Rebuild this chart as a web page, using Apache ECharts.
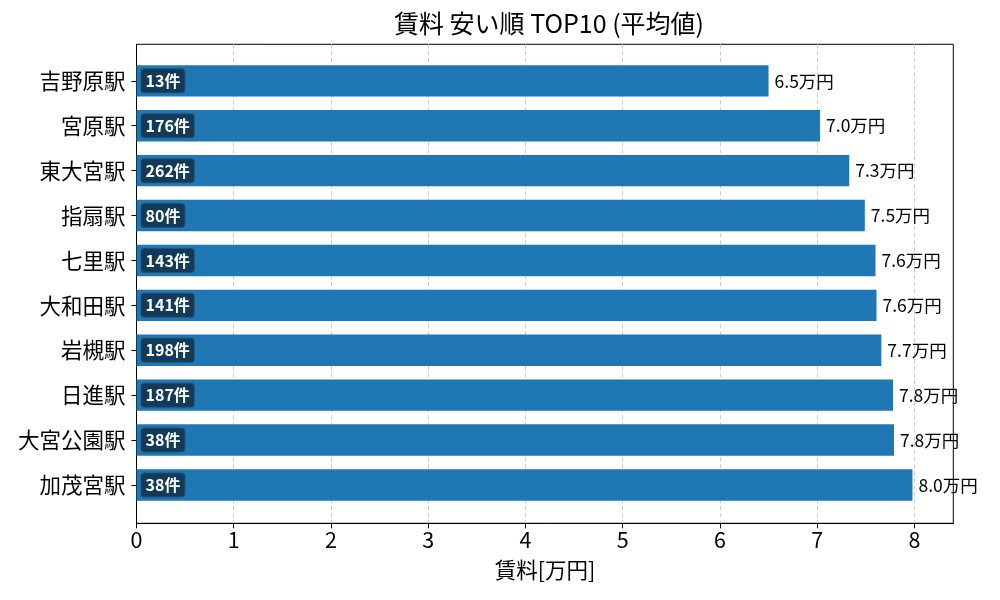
<!DOCTYPE html>
<html>
<head>
<meta charset="utf-8">
<script src="https://cdn.jsdelivr.net/npm/echarts@6/dist/echarts.min.js"></script>
<style>
  html, body { margin: 0; padding: 0; background: #fff; }
  #chart { width: 1000px; height: 600px; }
</style>
</head>
<body>
<div id="chart"></div>
<script>
// 賃料 安い順 TOP10
const stations = ['吉野原駅', '宮原駅', '東大宮駅', '指扇駅', '七里駅', '大和田駅', '岩槻駅', '日進駅', '大宮公園駅', '加茂宮駅'];
const rents = [6.50, 7.03, 7.33, 7.49, 7.60, 7.61, 7.66, 7.78, 7.79, 7.98];
const counts = [13, 176, 262, 80, 143, 141, 198, 187, 38, 38];
const xTicks = [0, 1, 2, 3, 4, 5, 6, 7, 8];

const FONT = '"Noto Sans CJK JP", "Noto Sans", sans-serif';
const chart = echarts.init(document.getElementById('chart'));

const option = {
  backgroundColor: '#fff',
  animation: false,
  textStyle: { fontFamily: FONT },
  title: {
    text: '賃料 安い順 TOP10 (平均値)',
    left: 544,
    textAlign: 'center',
    top: 6,
    textStyle: { fontFamily: FONT, fontSize: 25, fontWeight: 'normal', color: '#000' }
  },
  grid: [
    // 枠・x軸用
    { left: 136.5, right: 46.7, top: 44.3, bottom: 76.7, show: true, borderColor: '#000', borderWidth: 1, backgroundColor: 'transparent' },
    // バー用（上下に余白あり）
    { left: 136.5, right: 46.7, top: 58.4, bottom: 92.6 }
  ],
  xAxis: [
    {
      gridIndex: 0,
      type: 'value',
      min: 0,
      max: 8.4,
      interval: 1,
      name: '賃料[万円]',
      nameLocation: 'middle',
      nameGap: 36,
      nameTextStyle: { fontFamily: FONT, fontSize: 21.5, color: '#000' },
      axisLine: { show: true, lineStyle: { color: '#000', width: 1 } },
      axisTick: { show: true, inside: false, length: 5, lineStyle: { color: '#000' }, customValues: xTicks },
      axisLabel: { fontFamily: FONT, fontSize: 21.5, color: '#000', margin: 6, customValues: xTicks },
      splitLine: { show: true, lineStyle: { color: '#cccccc', type: [4, 3], width: 1 } }
    },
    {
      gridIndex: 1,
      type: 'value',
      min: 0,
      max: 8.4,
      show: false,
      splitLine: { show: false }
    }
  ],
  yAxis: [
    {
      gridIndex: 0,
      type: 'value',
      min: 0,
      max: 1,
      axisLine: { show: true, lineStyle: { color: '#000' } },
      axisTick: { show: false },
      axisLabel: { show: false },
      splitLine: { show: false }
    },
    {
      gridIndex: 1,
      type: 'category',
      inverse: true,
      data: stations,
      axisLine: { show: false },
      axisTick: { show: true, alignWithLabel: true, length: 5, lineStyle: { color: '#000' } },
      axisLabel: { fontFamily: FONT, fontSize: 21.5, color: '#000', margin: 11 },
      splitLine: { show: false }
    }
  ],
  series: [
    {
      name: '賃料',
      type: 'bar',
      xAxisIndex: 1,
      yAxisIndex: 1,
      data: rents,
      barWidth: '70%',
      itemStyle: { color: '#1f77b4' },
      label: {
        show: true,
        position: 'right',
        distance: 6,
        formatter: p => p.value.toFixed(1) + '万円',
        fontFamily: FONT,
        fontSize: 17.5,
        color: '#000'
      }
    },
    {
      name: '件数',
      type: 'bar',
      xAxisIndex: 1,
      yAxisIndex: 1,
      data: rents,
      barWidth: '70%',
      barGap: '-100%',
      silent: true,
      itemStyle: { color: 'transparent' },
      label: {
        show: true,
        position: 'insideLeft',
        distance: 5,
        formatter: p => counts[p.dataIndex] + '件',
        fontFamily: FONT,
        fontSize: 16,
        fontWeight: 'bold',
        color: '#fff',
        backgroundColor: '#143a5a',
        borderColor: '#24506f',
        borderWidth: 1,
        borderRadius: 3,
        padding: [4, 4, 3, 4]
      }
    }
  ]
};

chart.setOption(option);
</script>
</body>
</html>
